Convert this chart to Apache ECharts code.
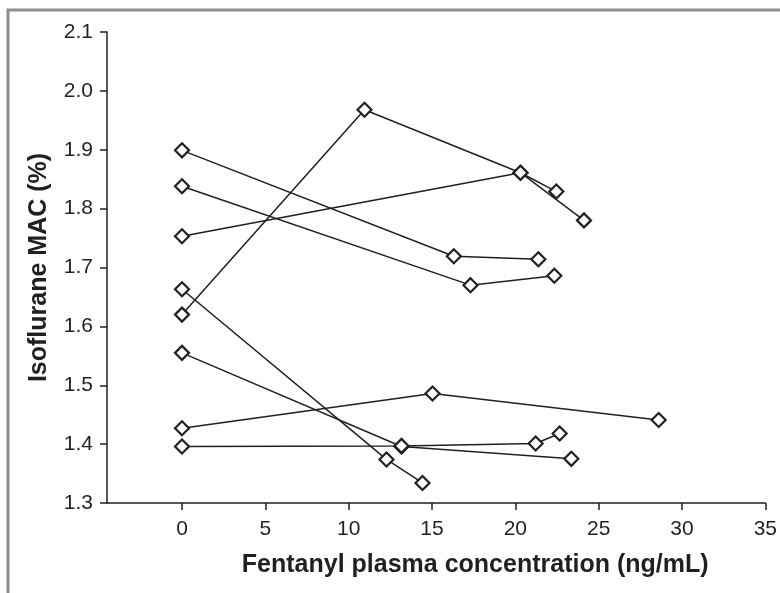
<!DOCTYPE html>
<html>
<head>
  <meta charset="utf-8">
  <script src="https://cdn.jsdelivr.net/npm/echarts@6/dist/echarts.min.js"></script>
  <style>
    html, body { margin: 0; padding: 0; background: #fff; }
    #main { width: 780px; height: 593px; }
  </style>
</head>
<body>
  <div id="main"></div>
  <script>
    // one array per subject: [fentanyl ng/mL, isoflurane MAC %]
    var subj1 = [[0, 1.899], [16.31, 1.719], [21.38, 1.714]];
    var subj2 = [[0, 1.838], [17.31, 1.670], [22.34, 1.686]];
    var subj3 = [[0, 1.753], [20.31, 1.861], [22.46, 1.829]];
    var subj4 = [[0, 1.620], [10.95, 1.968], [20.31, 1.861], [24.12, 1.780]];
    var subj5 = [[0, 1.663], [12.27, 1.374], [14.43, 1.334]];
    var subj6 = [[0, 1.555], [13.17, 1.396], [23.36, 1.375]];
    var subj7 = [[0, 1.427], [15.03, 1.486], [28.6, 1.441]];
    var subj8 = [[0, 1.396], [13.17, 1.397], [21.22, 1.401], [22.66, 1.418]];
    var subjects = [subj1, subj2, subj3, subj4, subj5, subj6, subj7, subj8];

    var xTicks = [0, 5, 10, 15, 20, 25, 30, 35];
    var ink = '#231f20';
    var font = '"Liberation Sans", Arial, sans-serif';

    var series = [];
    for (var i = 0; i < subjects.length; i++) {
      series.push({
        type: 'line',
        data: subjects[i],
        symbol: 'diamond',
        symbolSize: 14,
        showAllSymbol: true,
        lineStyle: { color: ink, width: 1.5 },
        itemStyle: { color: '#fff', borderColor: ink, borderWidth: 2.2 },
        emphasis: { disabled: true },
        silent: true,
        z: 2
      });
    }

    var chart = echarts.init(document.getElementById('main'), null, { renderer: 'canvas' });
    chart.setOption({
      animation: false,
      backgroundColor: '#fff',
      grid: { left: 107, top: 32, right: 14, bottom: 90, containLabel: false },
      graphic: [{
        type: 'polyline',
        shape: { points: [[8, 593], [8, 10], [780, 10]] },
        style: { stroke: '#8e8e8e', lineWidth: 3, fill: null },
        silent: true
      }],
      xAxis: {
        type: 'value',
        min: -4.5,
        max: 35,
        name: 'Fentanyl plasma concentration (ng/mL)',
        nameLocation: 'middle',
        nameGap: 50,
        nameTextStyle: {
          color: ink, fontFamily: font, fontSize: 25, fontWeight: 'bold',
          padding: [0, 0, 0, 78]
        },
        splitLine: { show: false },
        axisLine: { onZero: false, lineStyle: { color: ink, width: 1.5 } },
        axisTick: { length: 7, lineStyle: { color: ink, width: 1.5 }, customValues: xTicks },
        axisLabel: { color: ink, fontFamily: font, fontSize: 21, margin: 16, customValues: xTicks }
      },
      yAxis: {
        type: 'value',
        min: 1.3,
        max: 2.1,
        interval: 0.1,
        name: 'Isoflurane MAC (%)',
        nameLocation: 'middle',
        nameGap: 55,
        nameTextStyle: { color: ink, fontFamily: font, fontSize: 25, fontWeight: 'bold' },
        splitLine: { show: false },
        axisLine: { show: true, onZero: false, lineStyle: { color: ink, width: 1.5 } },
        axisTick: { show: true, length: 7, lineStyle: { color: ink, width: 1.5 } },
        axisLabel: {
          color: ink, fontFamily: font, fontSize: 21, margin: 14,
          formatter: function (v) { return v.toFixed(1); }
        }
      },
      series: series
    });
  </script>
</body>
</html>
